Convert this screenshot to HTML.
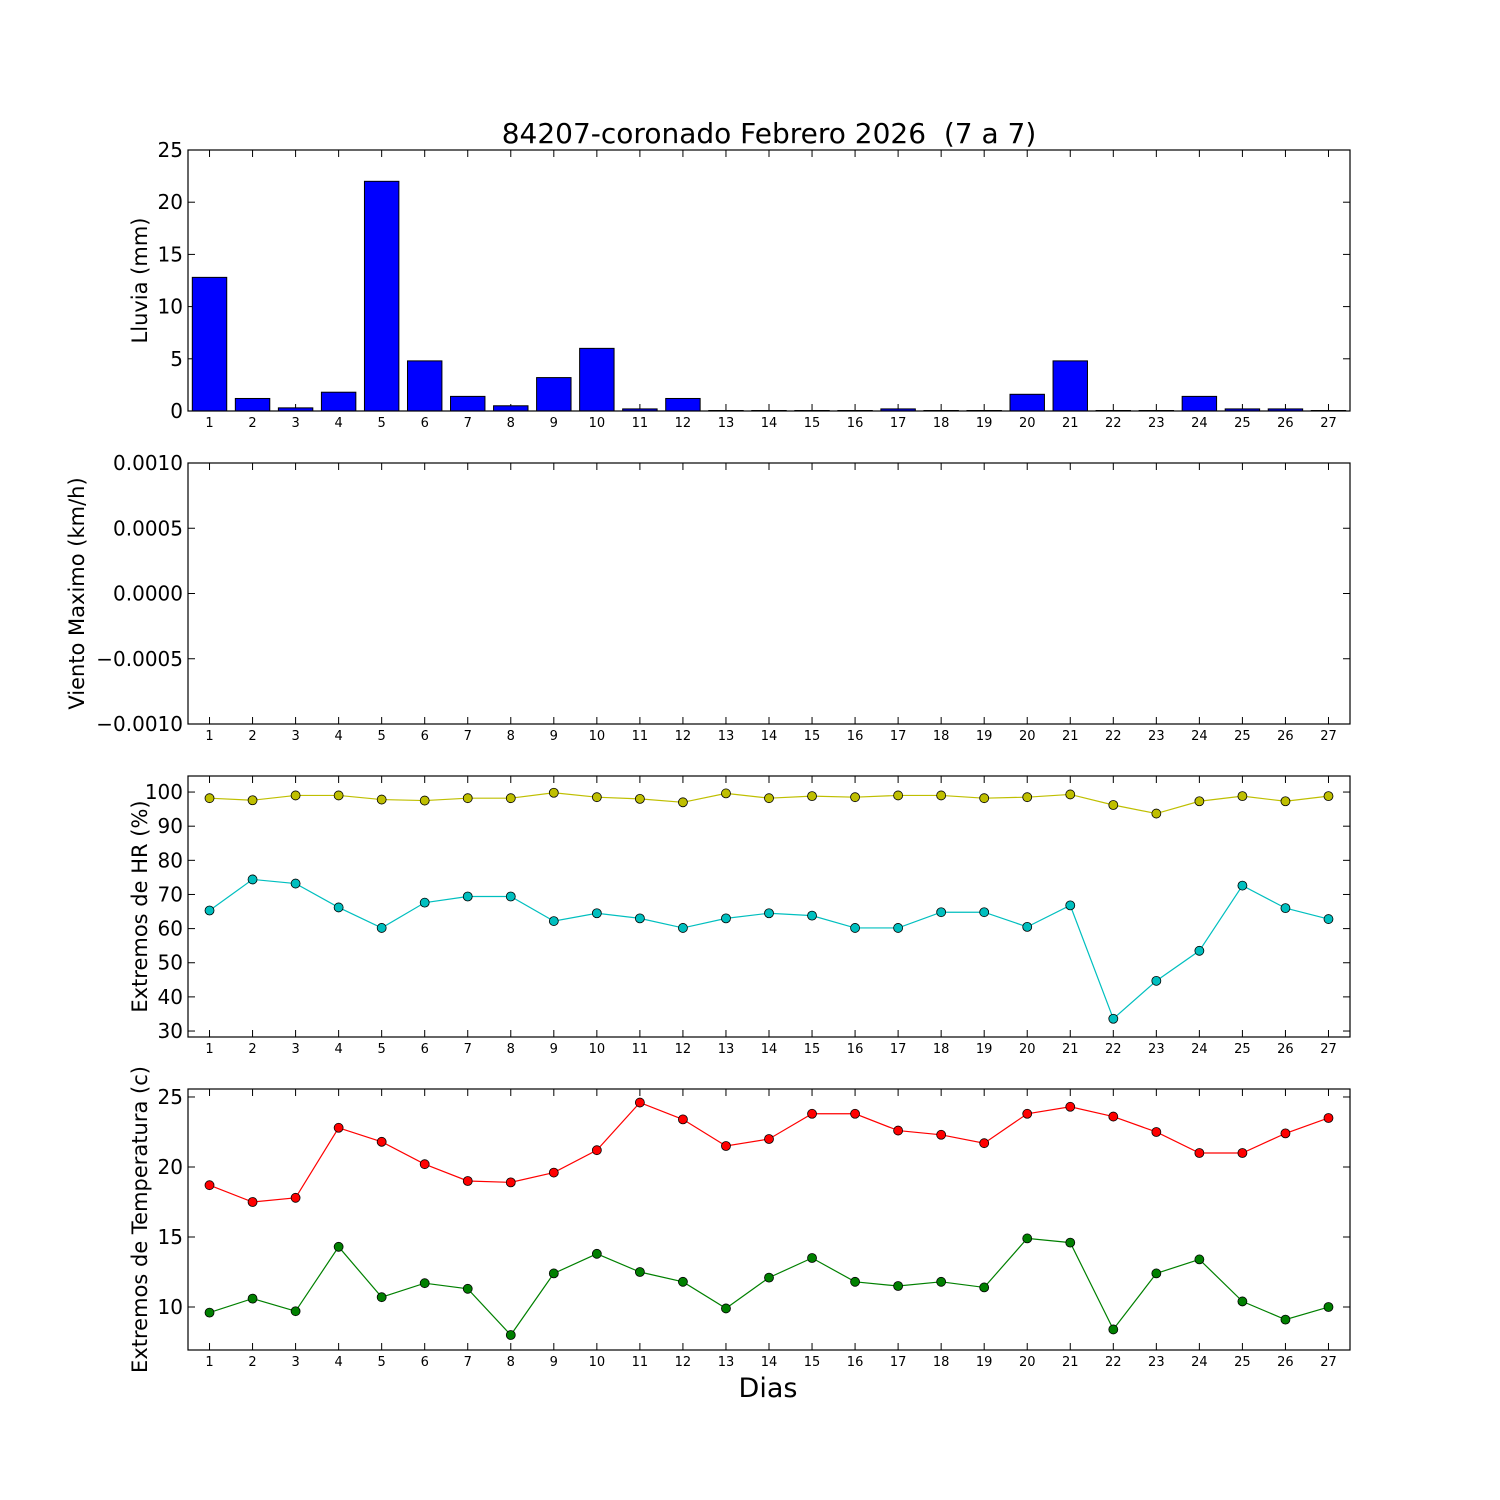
<!DOCTYPE html>
<html><head><meta charset="utf-8"><style>
html,body{margin:0;padding:0;background:#fff;}
svg{display:block;font-family:"DejaVu Sans","Liberation Sans",sans-serif;}
</style></head><body>
<svg id="chart" width="1500" height="1500" xmlns="http://www.w3.org/2000/svg">
<rect width="1500" height="1500" fill="#fff"/>
<text x="769" y="143" font-size="28" text-anchor="middle" xml:space="preserve">84207-coronado Febrero 2026  (7 a 7)</text>
<text x="768" y="1397" font-size="27" text-anchor="middle">Dias</text>
</svg>
<script>
const days = [1,2,3,4,5,6,7,8,9,10,11,12,13,14,15,16,17,18,19,20,21,22,23,24,25,26,27];
const rain = [12.8,1.2,0.3,1.8,22,4.8,1.4,0.5,3.2,6,0.2,1.2,0,0,0,0,0.2,0,0,1.6,4.8,0,0,1.4,0.2,0.2,0];
const hrMax = [98.2,97.6,99,99,97.8,97.5,98.2,98.2,99.8,98.5,98,97,99.6,98.2,98.8,98.5,99,99,98.2,98.5,99.3,96.2,93.7,97.3,98.8,97.3,98.8];
const hrMin = [65.3,74.4,73.2,66.2,60.2,67.6,69.4,69.4,62.2,64.5,63,60.2,63,64.5,63.8,60.2,60.2,64.8,64.8,60.5,66.8,33.6,44.7,53.5,72.6,66,62.8];
const tMax = [18.7,17.5,17.8,22.8,21.8,20.2,19,18.9,19.6,21.2,24.6,23.4,21.5,22,23.8,23.8,22.6,22.3,21.7,23.8,24.3,23.6,22.5,21,21,22.4,23.5];
const tMin = [9.6,10.6,9.7,14.3,10.7,11.7,11.3,8,12.4,13.8,12.5,11.8,9.9,12.1,13.5,11.8,11.5,11.8,11.4,14.9,14.6,8.4,12.4,13.4,10.4,9.1,10];
const rainTicks = [0,5,10,15,20,25];
const windTicks = [-0.001,-0.0005,0,0.0005,0.001];
const windTickLabels = ["\u22120.0010","\u22120.0005","0.0000","0.0005","0.0010"];
const hrTicks = [30,40,50,60,70,80,90,100];
const tTicks = [10,15,20,25];

const svg = document.getElementById('chart');
const NS = 'http://www.w3.org/2000/svg';
const L = 188, R = 1350;
function el(tag, attrs, parent){const e=document.createElementNS(NS,tag);for(const k in attrs)e.setAttribute(k,attrs[k]);(parent||svg).appendChild(e);return e;}
const xScale = d => L + (d - 0.5) / 27 * (R - L);

function panel(name, top, bottom, ymin, ymax, ticks, labels, ylabel){
  const g = el('g', {});
  
  
  const y = v => bottom - (v - ymin) / (ymax - ymin) * (bottom - top);
  ticks.forEach((t,i)=>{
    const yy = y(t);
    el('line',{x1:L,x2:L+7,y1:yy,y2:yy,stroke:'#000'},g);
    el('line',{x1:R-7,x2:R,y1:yy,y2:yy,stroke:'#000'},g);
    const tx = el('text',{x:L-5,y:yy+7,'font-size':20,'text-anchor':'end'},g);
    tx.textContent = labels ? labels[i] : t;
    
    
  });
  days.forEach(d=>{
    const xx = xScale(d);
    el('line',{x1:xx,x2:xx,y1:bottom,y2:bottom-7,stroke:'#000'},g);
    el('line',{x1:xx,x2:xx,y1:top,y2:top+7,stroke:'#000'},g);
    const tx = el('text',{x:xx,y:bottom+16,'font-size':13,'text-anchor':'middle'},g);
    tx.textContent = d;
    
    
  });
  const cy=(top+bottom)/2;
  const yl = el('text',{x:0,y:0,'font-size':21,'text-anchor':'middle',transform:`translate(${name==='wind-panel'?84:147},${cy}) rotate(-90)`},g);
  yl.textContent = ylabel;
  
  
  return {g, y, top, bottom};
}
function frame(p){el('rect',{x:L,y:p.top,width:R-L,height:p.bottom-p.top,fill:'none',stroke:'#000','stroke-width':1.2},p.g);}

const p1 = panel('rain-panel',150,411,0,25,rainTicks,null,'Lluvia (mm)');
const bw = 0.8/27*(R-L);
rain.forEach((v,i)=>{
  const x0 = xScale(days[i])-bw/2;
  const h = Math.max(p1.y(0)-p1.y(v), 0.5);
  const r = el('rect',{x:x0,y:p1.y(0)-h,width:bw,height:h,fill:'#0000ff',stroke:'#000','stroke-width':1},p1.g);
  
  
});
frame(p1);

const p2 = panel('wind-panel',463,724,-0.001,0.001,windTicks,windTickLabels,'Viento Maximo (km/h)');
frame(p2);

function series(p, vals, color, name){
  const pts = vals.map((v,i)=>xScale(days[i])+','+p.y(v)).join(' ');
  const pl = el('polyline',{points:pts,fill:'none',stroke:color,'stroke-width':1.2},p.g);
  
  
  vals.forEach((v,i)=>{
    const c = el('circle',{cx:xScale(days[i]),cy:p.y(v),r:4.5,fill:color,stroke:'#000','stroke-width':0.8},p.g);
    
    
  });
}
const p3 = panel('humidity-panel',776,1037,28.25,104.7,hrTicks,null,'Extremos de HR (%)');
series(p3,hrMax,'#bfbf00','hr-max');
series(p3,hrMin,'#00bfbf','hr-min');
frame(p3);

const p4 = panel('temperature-panel',1089,1350,6.93,25.57,tTicks,null,'Extremos de Temperatura (c)');
series(p4,tMax,'#ff0000','temp-max');
series(p4,tMin,'#008000','temp-min');
frame(p4);
</script>
</body></html>
